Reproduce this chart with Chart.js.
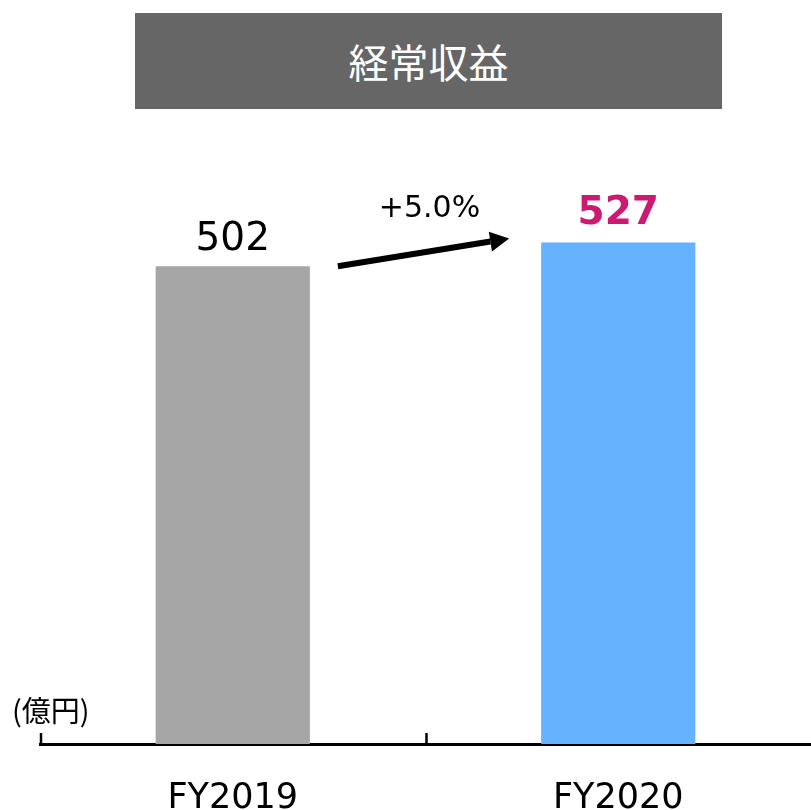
<!DOCTYPE html>
<html lang="ja">
<head>
<meta charset="UTF-8">
<title>経常収益</title>
<script src="https://cdn.jsdelivr.net/npm/chart.js"></script>
<style>
    body { margin: 0; background: #fff; }
    .wrap { position: relative; width: 811px; height: 810px; }
    .header {
        position: absolute; left: 135px; top: 13px; width: 587px; height: 96px;
        background: #666666; color: #fff;
        font-family: "Noto Sans CJK JP", sans-serif; font-size: 40px;
        display: flex; align-items: center; justify-content: center;
    }
    canvas { position: absolute; left: 0; top: 0; }
</style>
</head>
<body>
<div class="wrap">
    <canvas id="chart" width="811" height="810"></canvas>
    <div class="header">経常収益</div>
</div>
<script>
const categories = ["FY2019", "FY2020"];
const revenue = [502, 527];
const barColors = ["#a6a6a6", "#66b2ff"];
const labelColors = ["#000000", "#cc1a72"];
const growthLabel = "+5.0%";
const unitLabel = "(億円)";

// value labels, growth arrow, upward ticks and unit text
const extras = {
    id: "extras",
    afterDraw(chart) {
        const ctx = chart.ctx;
        const bars = chart.getDatasetMeta(0).data;
        const xs = chart.scales.x;
        ctx.save();

        // value labels
        ctx.textAlign = "center";
        ctx.textBaseline = "bottom";
        bars.forEach((b, i) => {
            ctx.font = (i === 1 ? "bold " : "") + "39px 'DejaVu Sans'";
            ctx.fillStyle = labelColors[i];
            ctx.fillText(revenue[i], b.x, b.y - (i === 1 ? 9 : 7));
        });

        // arrow
        const b1 = bars[0], b2 = bars[1];
        const x1 = b1.x + b1.width / 2 + 28, y1 = b1.y;
        const x2 = b2.x - b2.width / 2 - 32, y2 = b2.y - 4;
        const ang = Math.atan2(y2 - y1, x2 - x1);
        const hl = 19, hw = 10;
        ctx.strokeStyle = "#000";
        ctx.fillStyle = "#000";
        ctx.lineWidth = 6;
        ctx.beginPath();
        ctx.moveTo(x1, y1);
        ctx.lineTo(x2 - hl * Math.cos(ang), y2 - hl * Math.sin(ang));
        ctx.stroke();
        const bx = x2 - hl * Math.cos(ang), by = y2 - hl * Math.sin(ang);
        ctx.beginPath();
        ctx.moveTo(x2, y2);
        ctx.lineTo(bx + hw * Math.sin(ang), by - hw * Math.cos(ang));
        ctx.lineTo(bx - hw * Math.sin(ang), by + hw * Math.cos(ang));
        ctx.closePath();
        ctx.fill();

        ctx.font = "30px 'DejaVu Sans'";
        ctx.textBaseline = "middle";
        ctx.fillText(growthLabel, (x1 + x2) / 2 + 6, 209);

        // ticks pointing up from the axis
        const step = xs.width / categories.length;
        ctx.lineWidth = 2.5;
        for (let i = 0; i < categories.length; i++) {
            const x = xs.left + i * step + 1;
            ctx.beginPath();
            ctx.moveTo(x, xs.top);
            ctx.lineTo(x, xs.top - 11);
            ctx.stroke();
        }

        // unit
        ctx.font = "29px 'Noto Sans CJK JP'";
        ctx.textAlign = "left";
        ctx.fillText(unitLabel, 12, 711);
        ctx.restore();
    }
};

new Chart(document.getElementById("chart"), {
    type: "bar",
    data: {
        labels: categories,
        datasets: [{
            data: revenue,
            backgroundColor: barColors,
            barPercentage: 0.4,
            categoryPercentage: 1.0
        }]
    },
    options: {
        responsive: false,
        animation: false,
        layout: { padding: { left: 40, right: 0, top: 173, bottom: -36 } },
        plugins: { legend: { display: false }, tooltip: { enabled: false } },
        scales: {
            x: {
                grid: { display: false },
                border: { display: true, color: "#000", width: 3 },
                ticks: { color: "#000", font: { family: "DejaVu Sans", size: 35 }, padding: 26 }
            },
            y: { display: false, min: 0, max: 600 }
        }
    },
    plugins: [extras]
});
</script>
</body>
</html>
